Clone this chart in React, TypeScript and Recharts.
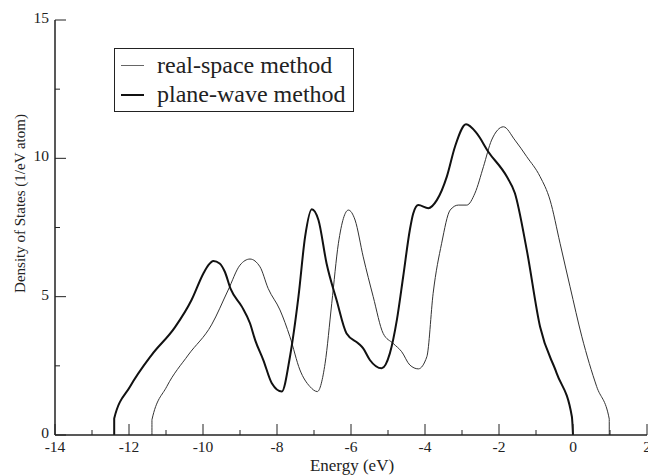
import { LineChart, Line, XAxis, YAxis } from 'recharts';

// plane-wave DOS (thick curve)
const pwEnergy = [
  -12.4, -12.4, -11.97, -11.39, -10.76, -10.31, -9.99, -9.85, -9.72, -9.55, -9.41, -9.25, -8.95, -8.73,
  -8.59, -8.37, -8.14, -7.87, -7.65, -7.42, -7.24, -7.06, -6.88, -6.66, -6.39, -6.12, -5.8, -5.67, -5.49,
  -5.17, -4.95, -4.76, -4.59, -4.41, -4.32, -4.18, -3.91, -3.68, -3.41, -3.19, -2.89, -2.6, -2.29, -1.79,
  -1.57, -1.25, -0.89, -0.44, -0.03, 0,
];
const pwDos = [
  0, 0.6, 1.75, 2.89, 3.89, 4.88, 5.84, 6.15, 6.29, 6.2, 5.9, 5.27, 4.64, 4.04,
  3.43, 2.71, 1.87, 1.57, 2.83, 5.0, 7.17, 8.16, 7.77, 6.2, 4.88, 3.67, 3.31, 3.13, 2.71,
  2.41, 2.95, 4.16, 5.72, 7.41, 8.0, 8.31, 8.2, 8.49, 9.34, 10.42, 11.23, 10.9, 10.24, 9.34,
  8.74, 6.69, 3.91, 2.23, 0.66, 0,
];

// real-space DOS (thin curve)
const rsEnergy = [
  -11.38, -11.38, -10.98, -10.4, -9.77, -9.32, -9.0, -8.73, -8.46, -8.24, -7.92, -7.65, -7.38, -7.11,
  -6.91, -6.7, -6.52, -6.34, -6.07, -5.89, -5.67, -5.4, -5.13, -4.86, -4.63, -4.41, -4.18, -3.95, -3.78,
  -3.55, -3.32, -3.1, -2.87, -2.65, -2.42, -2.2, -1.88, -1.57, -1.25, -0.89, -0.62, -0.35, -0.08, 0.24,
  0.64, 0.98, 0.98,
];
const rsDos = [
  0, 0.55, 1.75, 2.89, 3.98, 5.24, 6.14, 6.36, 6.08, 5.3, 4.52, 3.55, 2.35, 1.75,
  1.57, 2.59, 4.76, 6.93, 8.13, 7.77, 6.44, 5.0, 3.67, 3.31, 3.01, 2.53, 2.39, 2.83, 5.12,
  6.93, 8.13, 8.31, 8.31, 8.74, 9.7, 10.66, 11.14, 10.66, 10.06, 9.34, 8.49, 6.93, 5.36, 3.55,
  1.75, 0.58, 0,
];

const xTicks = [-14, -13, -12, -11, -10, -9, -8, -7, -6, -5, -4, -3, -2, -1, 0, 1, 2];
const yTicks = [0, 2.5, 5, 7.5, 10, 12.5, 15];

const pwData = pwEnergy.map((e, i) => ({ e, dos: pwDos[i] }));
const rsData = rsEnergy.map((e, i) => ({ e, dos: rsDos[i] }));

const FONT = '"Liberation Serif", "DejaVu Serif", serif';
const INK = '#222';

// ticks point inward; labels only on major ticks
const BottomTick = ({ x, y, payload }: any) => {
  const major = payload.value % 2 === 0;
  return (
    <g>
      <line x1={x} x2={x} y1={y} y2={y - (major ? 11 : 5)} stroke={INK} />
      {major ? (
        <text x={x} y={y + 17} textAnchor="middle" fontSize={15.5} fontFamily={FONT} fill={INK}>
          {payload.value}
        </text>
      ) : null}
    </g>
  );
};
const TopTick = ({ x, y, payload }: any) => {
  const major = payload.value % 2 === 0;
  return <line x1={x} x2={x} y1={y} y2={y + (major ? 11 : 5)} stroke={INK} />;
};
const LeftTick = ({ x, y, payload }: any) => {
  const major = payload.value % 5 === 0;
  return (
    <g>
      <line x1={x} x2={x + (major ? 11 : 5)} y1={y} y2={y} stroke={INK} />
      {major ? (
        <text x={x - 6} y={y + 3} textAnchor="end" fontSize={15.5} fontFamily={FONT} fill={INK}>
          {payload.value}
        </text>
      ) : null}
    </g>
  );
};
const RightTick = ({ x, y, payload }: any) => {
  const major = payload.value % 5 === 0;
  return <line x1={x} x2={x - (major ? 11 : 5)} y1={y} y2={y} stroke={INK} />;
};

const XTitle = ({ viewBox }: any) => (
  <text x={viewBox.x + viewBox.width / 2 + 1} y={viewBox.y + 36} textAnchor="middle" fontSize={17} fontFamily={FONT} fill={INK}>
    Energy (eV)
  </text>
);
// title sits a bit above the plot's middle, as in the original
const YTitle = ({ viewBox }: any) => {
  const cx = 20;
  const cy = viewBox.y + viewBox.height / 2 - 24;
  return (
    <text x={cx} y={cy} transform={`rotate(-90 ${cx} ${cy})`} textAnchor="middle" dominantBaseline="central" fontSize={15} fontFamily={FONT} fill={INK}>
      Density of States (1/eV atom)
    </text>
  );
};

const legendItems = [
  { name: 'real-space method', w: 1, c: '#666' },
  { name: 'plane-wave method', w: 2, c: '#111' },
];

export default function App() {
  return (
    <div style={{ position: 'absolute', left: 0, top: 0, width: 648, height: 475, background: '#fff' }}>
      <LineChart width={648} height={475} margin={{ top: 20, right: 1, bottom: 0, left: 0 }}>
        <XAxis
          xAxisId="b"
          dataKey="e"
          type="number"
          domain={[-14, 2]}
          ticks={xTicks}
          interval={0}
          height={40}
          tickSize={0}
          tickMargin={0}
          tickLine={false}
          axisLine={{ stroke: INK, strokeWidth: 1.5 }}
          tick={<BottomTick />}
          allowDataOverflow
          label={<XTitle />}
        />
        <XAxis
          xAxisId="t"
          orientation="top"
          dataKey="e"
          type="number"
          domain={[-14, 2]}
          ticks={xTicks}
          interval={0}
          height={0}
          tickSize={0}
          tickMargin={0}
          tickLine={false}
          axisLine={{ stroke: INK }}
          tick={<TopTick />}
          allowDataOverflow
        />
        <YAxis
          yAxisId="l"
          type="number"
          domain={[0, 15]}
          ticks={yTicks}
          interval={0}
          width={55}
          tickSize={0}
          tickMargin={0}
          tickLine={false}
          axisLine={{ stroke: INK, strokeWidth: 1.5 }}
          tick={<LeftTick />}
          allowDataOverflow
          label={<YTitle />}
        />
        <YAxis
          yAxisId="r"
          orientation="right"
          type="number"
          domain={[0, 15]}
          ticks={yTicks}
          interval={0}
          width={0}
          tickSize={0}
          tickMargin={0}
          tickLine={false}
          axisLine={{ stroke: INK }}
          tick={<RightTick />}
          allowDataOverflow
        />
        <Line
          xAxisId="b"
          yAxisId="l"
          data={rsData}
          dataKey="dos"
          type="monotone"
          stroke="#333"
          strokeWidth={1}
          dot={false}
          isAnimationActive={false}
        />
        <Line
          xAxisId="b"
          yAxisId="l"
          data={pwData}
          dataKey="dos"
          type="monotone"
          stroke="#111"
          strokeWidth={2}
          dot={false}
          isAnimationActive={false}
        />
      </LineChart>
      <div
        style={{
          position: 'absolute',
          left: 114,
          top: 48,
          width: 240,
          height: 64,
          border: `1px solid ${INK}`,
          background: '#fff',
          fontFamily: FONT,
          fontSize: 24,
          color: INK,
          lineHeight: '29px',
          padding: '2px 6px',
          boxSizing: 'border-box',
          whiteSpace: 'nowrap',
        }}
      >
        {legendItems.map((s) => (
          <div key={s.name} style={{ display: 'flex', alignItems: 'center' }}>
            <span style={{ display: 'inline-block', width: 23, height: 0, borderTop: `${s.w}px solid ${s.c}`, marginRight: 13, flex: 'none' }} />
            {s.name}
          </div>
        ))}
      </div>
    </div>
  );
}
